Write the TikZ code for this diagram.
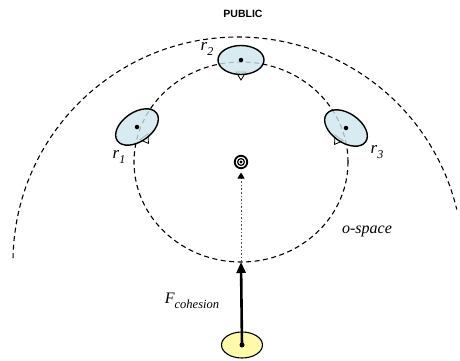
\documentclass[tikz,border=0pt]{standalone}
\usepackage{fontspec}
\setmainfont{Liberation Serif}
\newfontfamily\sansfont{Liberation Sans}
\usetikzlibrary{arrows.meta}
\definecolor{headblue}{RGB}{205,230,236}
\definecolor{baseyellow}{RGB}{255,250,170}
\newcommand{\rlab}[1]{r\raisebox{-5pt}{\fontsize{12}{12}\selectfont #1}}
\tikzset{
  zone/.style={dash pattern=on 5pt off 3.5pt, line width=1.1pt},
  head/.style={draw=black, line width=1.4pt, fill=headblue, fill opacity=0.8},
  nose/.style={draw=black, line width=0.8pt, fill=white},
  dotnode/.style={circle, fill=black, inner sep=0pt, minimum size=4.5pt},
  lbl/.style={inner sep=0pt, font=\fontsize{17}{17}\selectfont\itshape},
}
\begin{document}
\begin{tikzpicture}[x=1pt,y=1pt]
\useasboundingbox (0,0) rectangle (460,360);
% zones
\draw[zone] (238,98) ++(179:225) arc[start angle=179, end angle=13.5, radius=225];
\draw[zone] (241,198) ellipse (107 and 100);
% person r2
\begin{scope}[shift={(241,300)}]
  \draw[nose] (-5,-12) -- (0,-20) -- (5,-12) -- cycle;
  \draw[head] (0,0) ellipse (23 and 14.5);
  \node[dotnode] (p2) at (0,0) {};
\end{scope}
% person r1
\begin{scope}[shift={(137,233)}, rotate=35]
  \draw[nose] (-5,-12) -- (0,-20) -- (5,-12) -- cycle;
  \draw[head] (0,0) ellipse (24 and 14.5);
  \node[dotnode] (p1) at (0,0) {};
\end{scope}
% person r3
\begin{scope}[shift={(346,232)}, rotate=-35]
  \draw[nose] (-5,-12) -- (0,-20) -- (5,-12) -- cycle;
  \draw[head] (0,0) ellipse (24 and 14.5);
  \node[dotnode] (p3) at (0,0) {};
\end{scope}
% center target
\node[circle, draw=black, line width=1.8pt, minimum size=12.5pt, inner sep=0pt] (ctr) at (241,198) {};
\draw[line width=1.2pt] (ctr.center) circle (3.4);
\fill (ctr.center) circle (1.6);
\coordinate (ctip) at (241,187.5);
\coordinate (bt) at (241,98);
\draw[black!70, line width=0.9pt, dash pattern=on 1.6pt off 2pt, -{Triangle[length=6pt,width=7pt,black]}] (bt) -- (ctip);
% base
\draw[line width=1.1pt, fill=baseyellow] (242,15) ellipse (20.5 and 13);
\node[dotnode, minimum size=5pt] (base) at (242,15) {};
\draw[line width=2.6pt, -{Triangle[length=11pt,width=9pt]}] (base.center) -- (bt);
% labels
\node[lbl] (l1) at (119,203) {\rlab{1}};
\node[lbl] (l2) at (207,311) {\rlab{2}};
\node[lbl] (l3) at (377,208) {\rlab{3}};
\node[inner sep=0pt, font=\fontsize{16}{16}\selectfont\itshape] (fc) at (192,59) {F\raisebox{-5pt}{\fontsize{12.5}{12.5}\selectfont cohesion}};
\node[inner sep=0pt, font=\fontsize{16}{16}\selectfont\itshape] (os) at (367,129) {o-space};
\node[inner sep=0pt, font=\sansfont\bfseries\fontsize{10.5}{10.5}\selectfont] (pub) at (243,346) {PUBLIC};
\end{tikzpicture}
\end{document}
